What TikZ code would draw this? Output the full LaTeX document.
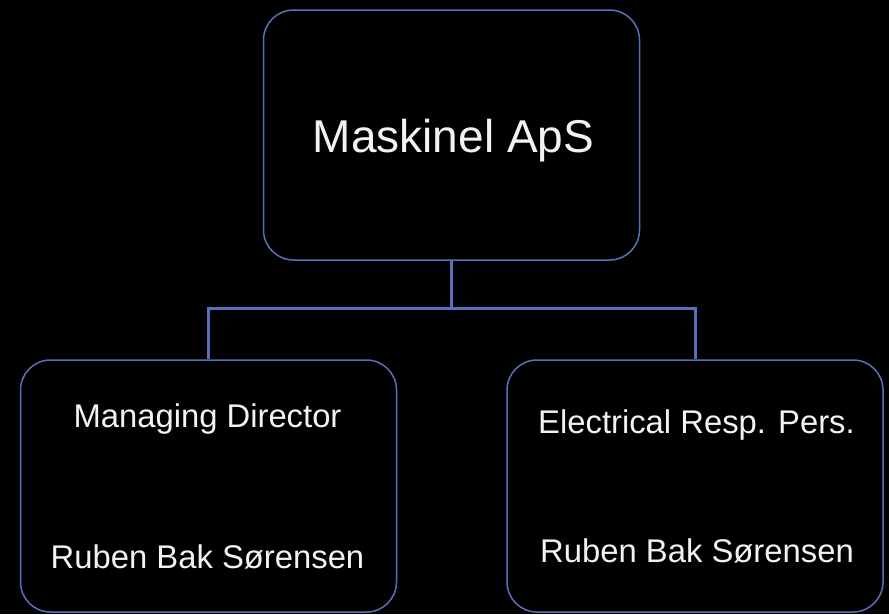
\documentclass[tikz,border=0pt]{standalone}
\usepackage{fontspec}
\setmainfont{Liberation Sans}
\definecolor{lineblue}{RGB}{88,112,184}
\definecolor{txt}{RGB}{242,242,242}
\begin{document}
\begin{tikzpicture}[x=1pt,y=-1pt,
  box/.style={draw=lineblue,line width=1.5pt,rounded corners=30pt,fill=black,minimum width=376pt,minimum height=250pt,inner sep=0pt},
  conn/.style={draw=lineblue,line width=3pt},
  bigtxt/.style={text=txt,font=\fontsize{46}{55}\selectfont,anchor=base,inner sep=0pt},
  smalltxt/.style={text=txt,font=\fontsize{32.8}{39}\selectfont,anchor=base,inner sep=0pt}]
\fill[black] (0,0) rectangle (889,614);
\useasboundingbox (0,0) rectangle (889,614);
\node[box] (top) at (451.5,135) {};
\node[box,minimum height=252pt] (left) at (208.5,486) {};
\node[box,minimum height=252pt] (right) at (695,486) {};
\coordinate (bus) at (451.5,308);
\draw[conn] (top.south) -- (bus);
\draw[conn] (bus) -| (left.north);
\draw[conn] (bus) -| (right.north);
\node[bigtxt] (t0) at (453.5,152) {Maskinel ApS};
\node[smalltxt] (t1) at (207.5,427) {Managing Director};
\node[smalltxt] (t2) at (207.5,568) {Ruben Bak Sørensen};
\node[smalltxt] (t3) at (696.5,433) {Electrical Resp. Pers.};
\node[smalltxt] (t4) at (697,562) {Ruben Bak Sørensen};
\end{tikzpicture}
\end{document}
